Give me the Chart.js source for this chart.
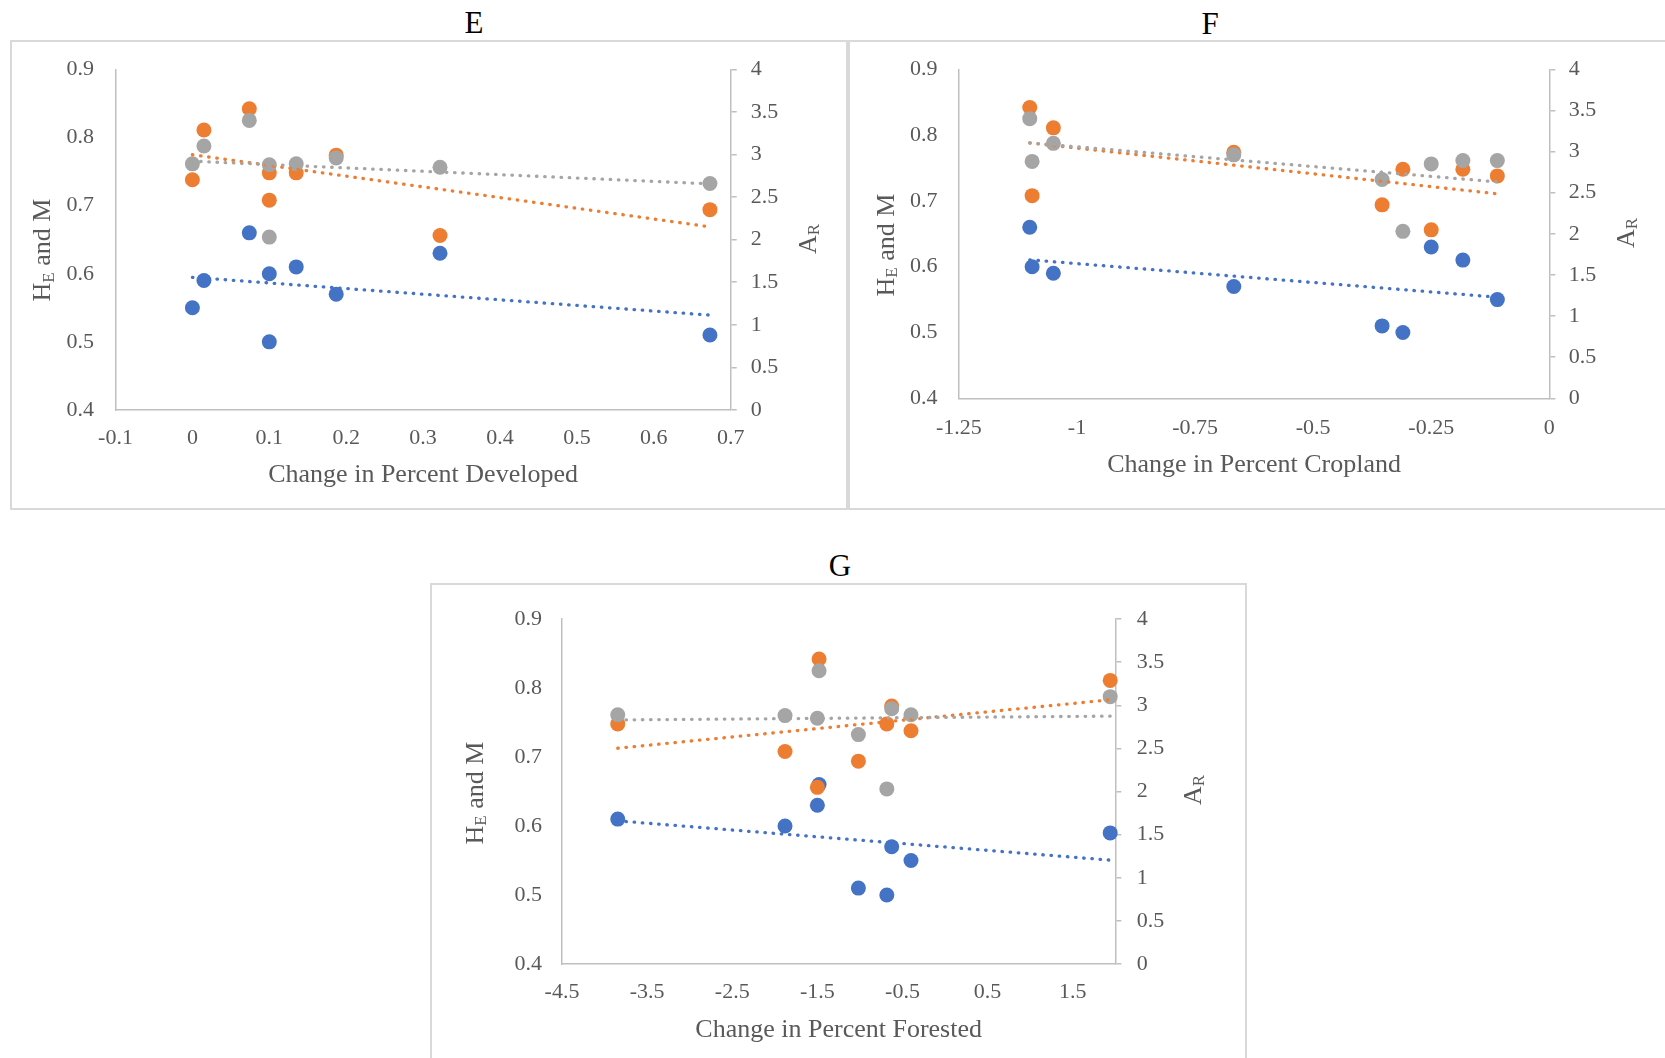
<!DOCTYPE html>
<html>
<head>
<meta charset="utf-8">
<title>Genetic diversity vs land-use change</title>
<script src="https://cdn.jsdelivr.net/npm/chart.js"></script>
<style>
body {
  margin: 0;
  background: #fff;
  width: 1665px;
  height: 1058px;
  position: relative;
  overflow: hidden;
  font-family: 'Liberation Serif', 'Times New Roman', serif;
}
.frame {
  position: absolute;
  box-sizing: border-box;
  border: 2px solid #d9d9d9;
}
.panelTitle {
  position: absolute;
  font-size: 31px;
  line-height: 1;
  color: #000;
  transform: translate(-50%, -50%);
}
canvas { position: absolute; }
</style>
</head>
<body>
<div class="frame" style="left:10px;top:40px;width:838px;height:470px"></div>
<div class="frame" style="left:848px;top:40px;width:830px;height:470px"></div>
<div class="frame" style="left:430px;top:583px;width:817px;height:500px"></div>

<div class="panelTitle" style="left:474px;top:22px">E</div>
<div class="panelTitle" style="left:1210px;top:23px">F</div>
<div class="panelTitle" style="left:840px;top:565px">G</div>

<canvas id="chartE" width="838" height="470" style="left:10px;top:40px"></canvas>
<canvas id="chartF" width="817" height="470" style="left:848px;top:40px"></canvas>
<canvas id="chartG" width="817" height="475" style="left:430px;top:583px"></canvas>

<script>
// data, one value per site
const devChange    = [0.000, 0.015, 0.074, 0.100, 0.100, 0.135, 0.187, 0.322, 0.673];
const cropChange   = [-0.110, -1.050, -1.100, -1.095, -0.310, -0.183, -0.668, -0.250, -0.354];
const forestChange = [-0.40, 1.94, -1.48, -1.88, -0.684, -3.845, -0.627, -1.50, -1.018];
const mValues  = [0.55, 0.59, 0.66, 0.60, 0.50, 0.61, 0.57, 0.63, 0.51];
const heValues = [0.738, 0.811, 0.842, 0.708, 0.748, 0.748, 0.774, 0.656, 0.694];
const arValues = [2.89, 3.10, 3.40, 2.88, 2.03, 2.89, 2.96, 2.85, 2.66];

// tick labels
const xTicksE = [-0.1, 0, 0.1, 0.2, 0.3, 0.4, 0.5, 0.6, 0.7];
const xTicksF = [-1.25, -1, -0.75, -0.5, -0.25, 0];
const xTicksG = [-4.5, -3.5, -2.5, -1.5, -0.5, 0.5, 1.5];
const leftTicks  = [0.4, 0.5, 0.6, 0.7, 0.8, 0.9];
const rightTicks = [0, 0.5, 1, 1.5, 2, 2.5, 3, 3.5, 4];

const FONT = "'Liberation Serif', 'Times New Roman', serif";
const BLUE = '#4472C4', ORANGE = '#ED7D31', GRAY = '#A5A5A5';
const TEXT = '#595959', AXIS = '#bfbfbf';

function fmt(v) { return String(Math.round(v * 1000) / 1000); }

// least squares line over the data's x range
function trend(xs, ys) {
  const n = xs.length;
  const mx = xs.reduce((a, b) => a + b, 0) / n;
  const my = ys.reduce((a, b) => a + b, 0) / n;
  let sxy = 0, sxx = 0;
  for (let i = 0; i < n; i++) {
    sxy += (xs[i] - mx) * (ys[i] - my);
    sxx += (xs[i] - mx) * (xs[i] - mx);
  }
  const b = sxy / sxx, a = my - b * mx;
  const lo = Math.min(...xs), hi = Math.max(...xs);
  return [{x: lo, y: a + b * lo}, {x: hi, y: a + b * hi}];
}

function pts(xs, ys) { return xs.map((x, i) => ({x: x, y: ys[i]})); }

// rotated axis titles with a subscript
function drawSub(ctx, t) {
  ctx.save();
  ctx.translate(t.x, t.y);
  ctx.rotate(-Math.PI / 2);
  ctx.fillStyle = TEXT;
  ctx.textBaseline = 'middle';
  ctx.textAlign = 'left';
  const big = '26px ' + FONT, small = '17px ' + FONT;
  ctx.font = big;
  const w1 = ctx.measureText(t.main).width;
  const w3 = ctx.measureText(t.rest).width;
  ctx.font = small;
  const w2 = ctx.measureText(t.sub).width;
  let x = -(w1 + w2 + w3) / 2;
  ctx.font = big; ctx.fillText(t.main, x, 0); x += w1;
  ctx.font = small; ctx.fillText(t.sub, x, 6); x += w2;
  ctx.font = big; ctx.fillText(t.rest, x, 0);
  ctx.restore();
}

const sideTitles = {
  id: 'sideTitles',
  afterDraw(chart, args, opts) {
    opts.items.forEach(t => drawSub(chart.ctx, t));
  }
};

function makeChart(id, xs, xTicks, xMin, xMax, xTitle, L) {
  const trendStyle = c => ({
    showLine: true, pointRadius: 0, borderColor: c, borderWidth: 3.3,
    borderDash: [0.5, 7.7], borderCapStyle: 'round', clip: false
  });
  const dotStyle = c => ({
    pointRadius: 7.5, pointHoverRadius: 7.5, pointBorderWidth: 0,
    backgroundColor: c, borderColor: c, clip: false
  });
  // fixed axis sizes so the plot area sits where the reference has it
  const fixV = w => s => { s.width = w; s.paddingTop = 0; s.paddingBottom = 0; };
  return new Chart(document.getElementById(id), {
    type: 'scatter',
    data: {
      datasets: [
        Object.assign({label: 'M', data: pts(xs, mValues), yAxisID: 'y', order: 6}, dotStyle(BLUE)),
        Object.assign({label: 'HE', data: pts(xs, heValues), yAxisID: 'y', order: 5}, dotStyle(ORANGE)),
        Object.assign({label: 'AR', data: pts(xs, arValues), yAxisID: 'y2', order: 4}, dotStyle(GRAY)),
        Object.assign({label: 'M trend', data: trend(xs, mValues), yAxisID: 'y', order: 3}, trendStyle(BLUE)),
        Object.assign({label: 'HE trend', data: trend(xs, heValues), yAxisID: 'y', order: 2}, trendStyle(ORANGE)),
        Object.assign({label: 'AR trend', data: trend(xs, arValues), yAxisID: 'y2', order: 1}, trendStyle(GRAY))
      ]
    },
    options: {
      responsive: false,
      animation: false,
      events: [],
      layout: { padding: { top: L.top, left: 0, right: 0, bottom: 0 } },
      plugins: {
        legend: { display: false },
        tooltip: { enabled: false },
        sideTitles: { items: [
          { x: L.yTitle[0], y: L.yTitle[1], main: 'H', sub: 'E', rest: ' and M' },
          { x: L.arTitle[0], y: L.arTitle[1], main: 'A', sub: 'R', rest: '' }
        ] }
      },
      scales: {
        x: {
          type: 'linear', position: 'bottom', min: xMin, max: xMax,
          afterBuildTicks: s => { s.ticks = xTicks.map(v => ({value: v})); },
          afterFit: s => { s.height = L.xHeight; s.paddingLeft = 0; s.paddingRight = 0; },
          grid: { display: true, drawOnChartArea: false, drawTicks: false },
          border: { display: true, color: AXIS, width: 1.5 },
          ticks: { autoSkip: false, maxRotation: 0, padding: L.xPad, color: TEXT,
                   font: { family: FONT, size: 22 }, callback: v => fmt(v) },
          title: { display: true, text: xTitle, color: TEXT,
                   font: { family: FONT, size: 26 }, padding: { top: 0, bottom: L.xTitlePad } }
        },
        y: {
          type: 'linear', position: 'left', min: 0.4, max: 0.9,
          afterBuildTicks: s => { s.ticks = leftTicks.map(v => ({value: v})); },
          afterFit: fixV(L.yWidth),
          grid: { display: true, drawOnChartArea: false, drawTicks: false },
          border: { display: true, color: AXIS, width: 1.5 },
          ticks: { padding: L.yPad, color: TEXT, font: { family: FONT, size: 22 }, callback: v => fmt(v) }
        },
        y2: {
          type: 'linear', position: 'right', min: 0, max: 4,
          afterBuildTicks: s => { s.ticks = rightTicks.map(v => ({value: v})); },
          afterFit: fixV(L.y2Width),
          grid: { display: true, drawOnChartArea: false, drawTicks: true, tickLength: 6, color: AXIS, lineWidth: 1.5 },
          border: { display: true, color: AXIS, width: 1.5 },
          ticks: { padding: L.y2Pad, color: TEXT, font: { family: FONT, size: 22 }, callback: v => fmt(v) }
        }
      }
    },
    plugins: [sideTitles]
  });
}

makeChart('chartE', devChange, xTicksE, -0.1, 0.7, 'Change in Percent Developed', {
  top: 29.3, yWidth: 105.5, y2Width: 117.3, xHeight: 100,
  xPad: 15.5, xTitlePad: 19.7, yPad: 21.5, y2Pad: 14,
  yTitle: [33.5, 210], arTitle: [799, 199]
});

makeChart('chartF', cropChange, xTicksF, -1.25, 0, 'Change in Percent Cropland', {
  top: 29.3, yWidth: 110.9, y2Width: 115.7, xHeight: 111.7,
  xPad: 16.5, xTitlePad: 29.4, yPad: 21.5, y2Pad: 13.5,
  yTitle: [39, 205], arTitle: [779, 193]
});

makeChart('chartG', forestChange, xTicksG, -4.5, 2.0, 'Change in Percent Forested', {
  top: 36, yWidth: 132, y2Width: 131.7, xHeight: 94,
  xPad: 15.5, xTitlePad: 12.4, yPad: 20, y2Pad: 15.5,
  yTitle: [46, 210], arTitle: [764, 207]
});
</script>
</body>
</html>
